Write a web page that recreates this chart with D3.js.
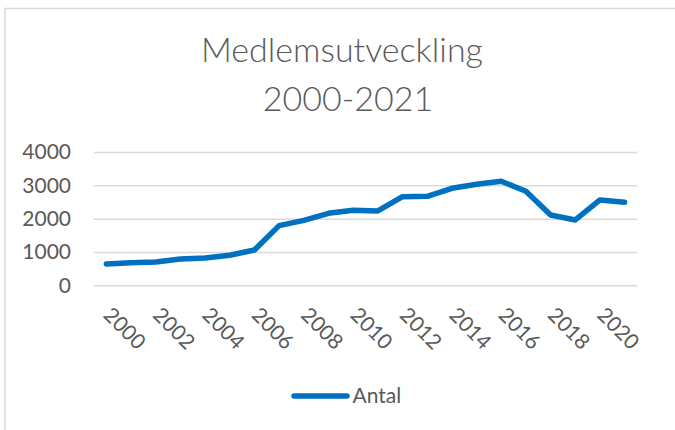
<!DOCTYPE html>
<html>
<head>
<meta charset="utf-8">
<script src="https://cdn.jsdelivr.net/npm/d3@7"></script>
<style>
  body { margin: 0; background: #fff; }
  text { font-family: Lato, "Open Sans", sans-serif; fill: #595959; }
</style>
</head>
<body>
<div id="chart"></div>
<script>
// data
const years = [2000, 2001, 2002, 2003, 2004, 2005, 2006, 2007, 2008, 2009, 2010,
               2011, 2012, 2013, 2014, 2015, 2016, 2017, 2018, 2019, 2020, 2021];
const antal = [640, 680, 700, 790, 820, 900, 1060, 1790, 1950, 2160, 2250,
               2230, 2660, 2670, 2910, 3030, 3120, 2820, 2110, 1960, 2560, 2490];
const yTicks = [0, 1000, 2000, 3000, 4000];
const xTickYears = [2000, 2002, 2004, 2006, 2008, 2010, 2012, 2014, 2016, 2018, 2020];
const seriesName = "Antal";

const width = 675;
const height = 430;
const plotLeft = 94;
const plotRight = 637;
const plotTop = 152;
const plotBottom = 285.3;
const blue = "#0070c0";
const gridColor = "#d9d9d9";

const svg = d3.select("#chart")
    .append("svg").attr("width", width).attr("height", height);

// chart border
svg.append("rect")
    .attr("x", 5)
    .attr("y", 8.5)
    .attr("width", 720)
    .attr("height", 460)
    .attr("fill", "#fff")
    .attr("stroke", gridColor)
    .attr("stroke-width", 1.5);

// title
const title = svg.append("text")
    .attr("text-anchor", "middle")
    .style("font-size", "34px")
    .style("font-weight", 300);
title.append("tspan").attr("x", 342).attr("y", 62).text("Medlemsutveckling");
title.append("tspan").attr("x", 348).attr("y", 111).text("2000-2021");

// scales
const x = d3.scalePoint()
    .domain(years)
    .range([plotLeft, plotRight])
    .padding(0.5);

const y = d3.scaleLinear()
    .domain([0, 4000])
    .range([plotBottom, plotTop]);

// gridlines + y labels
const yAxis = svg.append("g")
    .attr("transform", `translate(${plotLeft},0)`)
    .call(d3.axisLeft(y).tickValues(yTicks).tickFormat(d3.format("d"))
        .tickSize(-(plotRight - plotLeft)).tickPadding(23));
yAxis.select(".domain").remove();
yAxis.selectAll(".tick line").attr("stroke", gridColor).attr("stroke-width", 1.5);
yAxis.selectAll(".tick text")
    .attr("fill", "#595959")
    .style("font-family", "Lato, sans-serif")
    .style("font-size", "21px");

// x labels, rotated
const xAxis = svg.append("g")
    .attr("transform", `translate(0,${plotBottom})`)
    .call(d3.axisBottom(x).tickValues(xTickYears).tickFormat(d3.format("d")).tickSize(0));
xAxis.select(".domain").remove();
xAxis.selectAll(".tick text")
    .attr("fill", "#595959")
    .attr("x", 0)
    .attr("y", 0)
    .attr("dy", 0)
    .attr("transform", "translate(-4.5,31) rotate(45)")
    .style("text-anchor", "start")
    .style("font-family", "Lato, sans-serif")
    .style("font-size", "21px");

// line
const line = d3.line()
    .x((d, i) => x(years[i]))
    .y(d => y(d));

svg.append("path")
    .datum(antal)
    .attr("d", line)
    .attr("fill", "none")
    .attr("stroke", blue)
    .attr("stroke-width", 5.5)
    .attr("stroke-linejoin", "round")
    .attr("stroke-linecap", "round");

// legend
svg.append("line")
    .attr("x1", 294)
    .attr("y1", 396)
    .attr("x2", 347)
    .attr("y2", 396)
    .attr("stroke", blue)
    .attr("stroke-width", 5.5)
    .attr("stroke-linecap", "round");

svg.append("text")
    .attr("x", 352.5)
    .attr("y", 403)
    .style("font-size", "21px")
    .text(seriesName);
</script>
</body>
</html>
